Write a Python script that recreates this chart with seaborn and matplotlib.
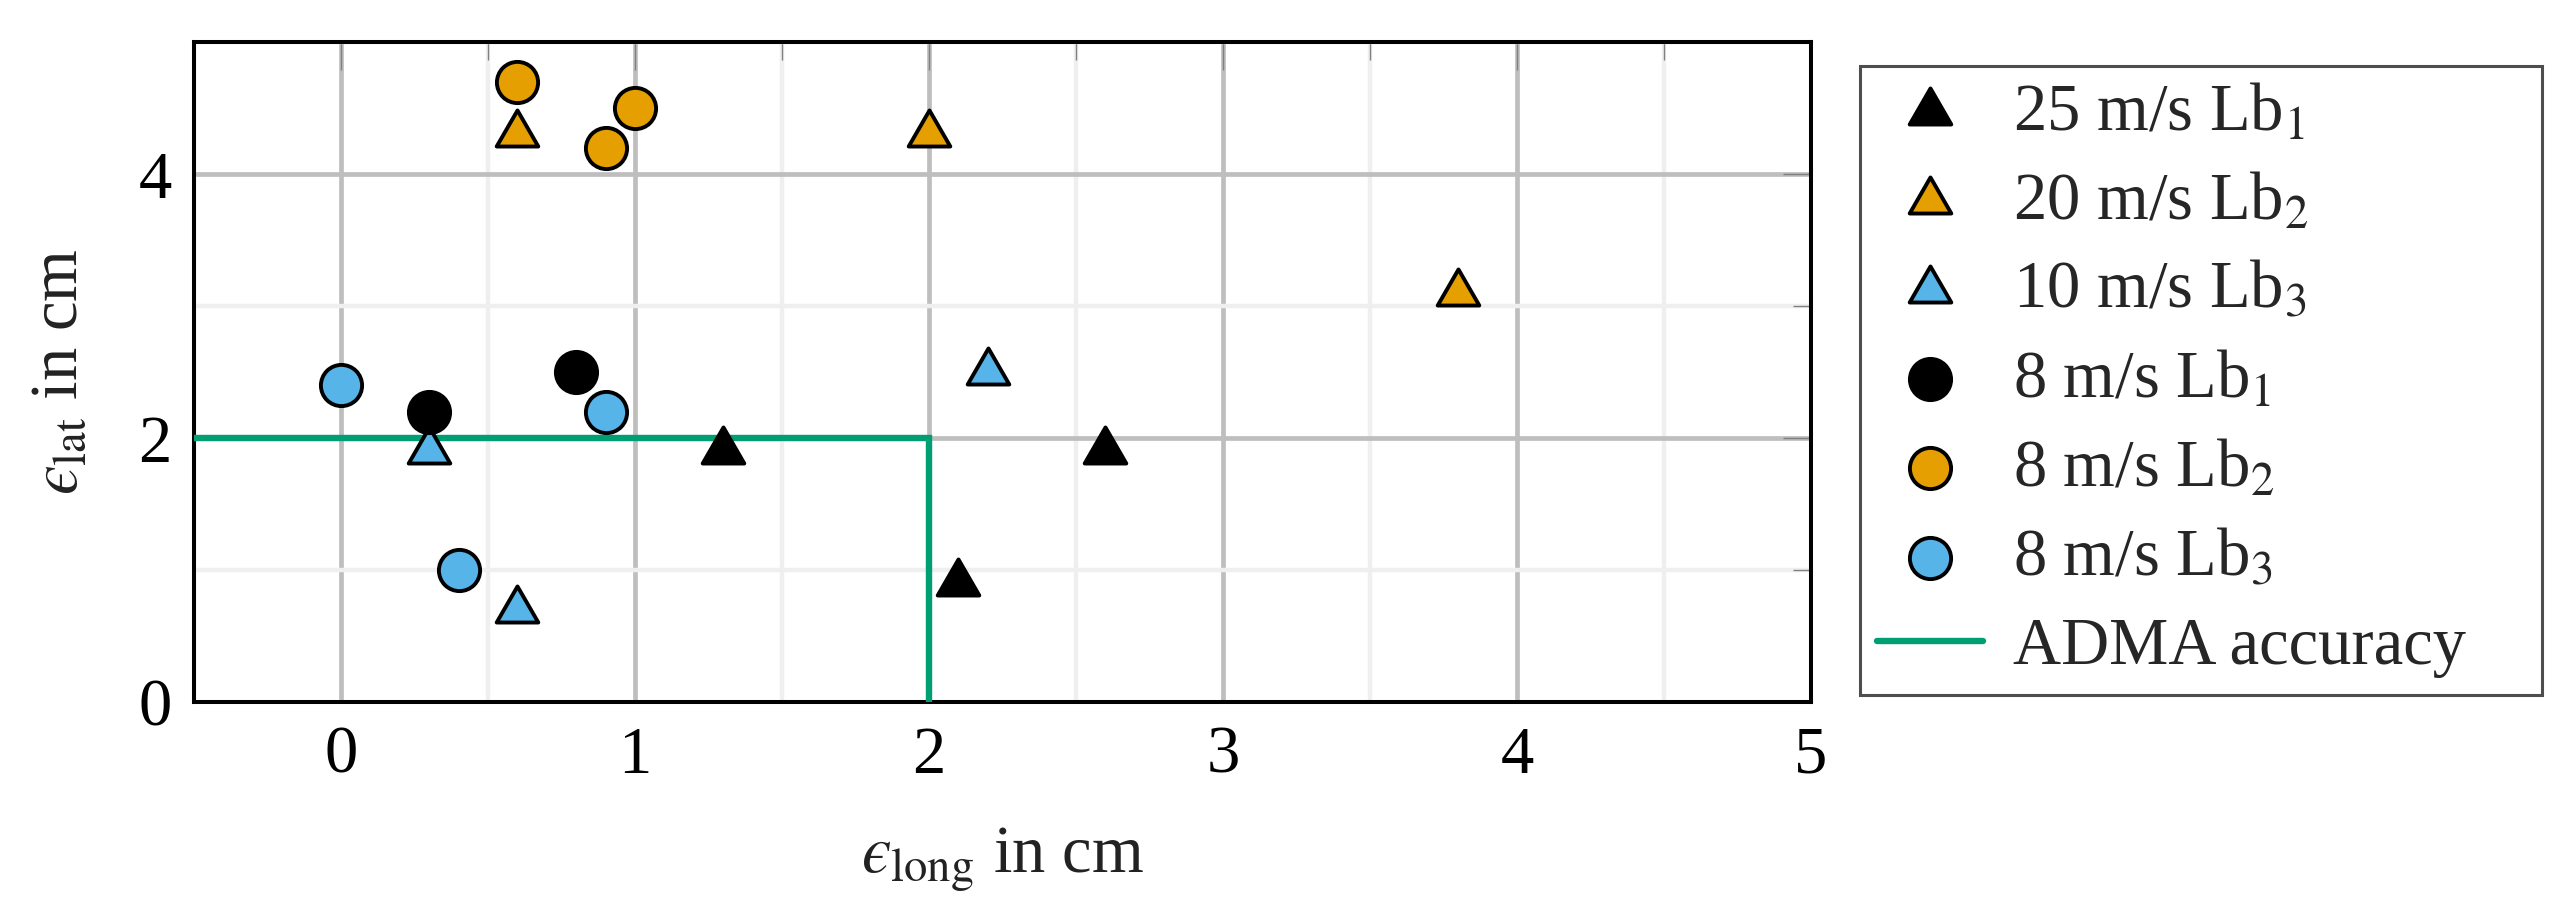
import numpy as np
import pandas as pd
import matplotlib
matplotlib.use("Agg")
import matplotlib.pyplot as plt
from matplotlib.path import Path
from matplotlib.ticker import MultipleLocator
import seaborn as sns

# ---------------- data ----------------
labels = ["25 m/s Lb$_1$", "20 m/s Lb$_2$", "10 m/s Lb$_3$",
          "8 m/s Lb$_1$", "8 m/s Lb$_2$", "8 m/s Lb$_3$"]
x_25_lb1 = [1.3, 2.6, 2.1]
y_25_lb1 = [1.9, 1.9, 0.9]
x_20_lb2 = [0.6, 2.0, 3.8]
y_20_lb2 = [4.3, 4.3, 3.1]
x_10_lb3 = [0.3, 0.6, 2.2]
y_10_lb3 = [1.9, 0.7, 2.5]
x_8_lb1 = [0.3, 0.8]
y_8_lb1 = [2.2, 2.5]
x_8_lb2 = [0.6, 0.9, 1.0]
y_8_lb2 = [4.7, 4.2, 4.5]
x_8_lb3 = [0.0, 0.9, 0.4]
y_8_lb3 = [2.4, 2.2, 1.0]
adma_x = [-0.5, 2.0, 2.0]
adma_y = [2.0, 2.0, 0.0]
adma_label = "ADMA accuracy"
x_ticks = [0, 1, 2, 3, 4, 5]
y_ticks = [0, 2, 4]

# ---------------- style ----------------
sns.set_style("white")
plt.rcParams["font.family"] = ["Liberation Serif", "DejaVu Serif"]
plt.rcParams["mathtext.fontset"] = "stix"

BLACK = "#000000"
ORANGE = "#E69F00"
BLUE = "#56B4E9"
GREEN = "#009E73"

tri = Path([(0, 1), (-0.866, -0.5), (0.866, -0.5), (0, 1)],
           [Path.MOVETO, Path.LINETO, Path.LINETO, Path.CLOSEPOLY])

W, H = 2570, 911
fig = plt.figure(figsize=(W / 100, H / 100), dpi=100)
ax = fig.add_axes([194 / W, 1 - 702 / H, (1811 - 194) / W, (702 - 42) / H])

series = [
    (x_25_lb1, y_25_lb1, tri, BLACK, 1200),
    (x_20_lb2, y_20_lb2, tri, ORANGE, 1200),
    (x_10_lb3, y_10_lb3, tri, BLUE, 1200),
    (x_8_lb1, y_8_lb1, "o", BLACK, 880),
    (x_8_lb2, y_8_lb2, "o", ORANGE, 880),
    (x_8_lb3, y_8_lb3, "o", BLUE, 880),
]

# ADMA accuracy line
ax.plot(adma_x, adma_y, color=GREEN, lw=4.6, zorder=3, label=adma_label,
        solid_joinstyle="miter")

for (xs, ys, mk, col, s), lab in zip(series, labels):
    df = pd.DataFrame({"x": xs, "y": ys})
    sns.scatterplot(data=df, x="x", y="y", marker=mk, color=col, s=s,
                    edgecolor="black", linewidth=2.8, ax=ax, label=lab, zorder=4)

ax.set_xlim(-0.5, 5)
ax.set_ylim(0, 5)
ax.set_xticks(x_ticks)
ax.set_yticks(y_ticks)
ax.xaxis.set_minor_locator(MultipleLocator(0.5))
ax.yaxis.set_minor_locator(MultipleLocator(1))
ax.grid(which="major", color="#bebebe", lw=3.4, zorder=0)
ax.grid(which="minor", color="#efefef", lw=3.2, zorder=0)
ax.set_axisbelow(True)
ax.tick_params(which="both", direction="in", top=True, right=True,
               color="#808080", width=1.0, labelsize=48, labelcolor="black")
ax.tick_params(which="major", length=20)
ax.tick_params(which="minor", length=13)
ax.tick_params(axis="x", which="both", pad=17)
ax.tick_params(axis="y", which="both", pad=16)
for sp in ax.spines.values():
    sp.set_color("black")
    sp.set_linewidth(2.9)

ax.set_xlabel("$\u03f5_{\\mathrm{long}}$ in cm", fontsize=48, labelpad=28, color="#222222")
ax.set_ylabel("$\u03f5_{\\mathrm{lat}}$ in cm", fontsize=48, labelpad=34, color="#222222")

# legend order: markers then line
handles, labs = ax.get_legend_handles_labels()
order = [labs.index(l) for l in labels] + [labs.index(adma_label)]
leg = ax.legend([handles[i] for i in order], [labs[i] for i in order],
                loc="upper left",
                bbox_to_anchor=(1860 / W, 1 - 682 / H, (2542 - 1860) / W, (682 - 66) / H),
                bbox_transform=fig.transFigure, borderaxespad=0, mode="expand",
                fontsize=48, frameon=True, fancybox=False, edgecolor="#222222",
                handlelength=1.6, handletextpad=0.45, labelspacing=0.42,
                borderpad=0.25, markerscale=1.0)
leg.get_frame().set_linewidth(2.2)

fig.savefig("out.png", dpi=100)
